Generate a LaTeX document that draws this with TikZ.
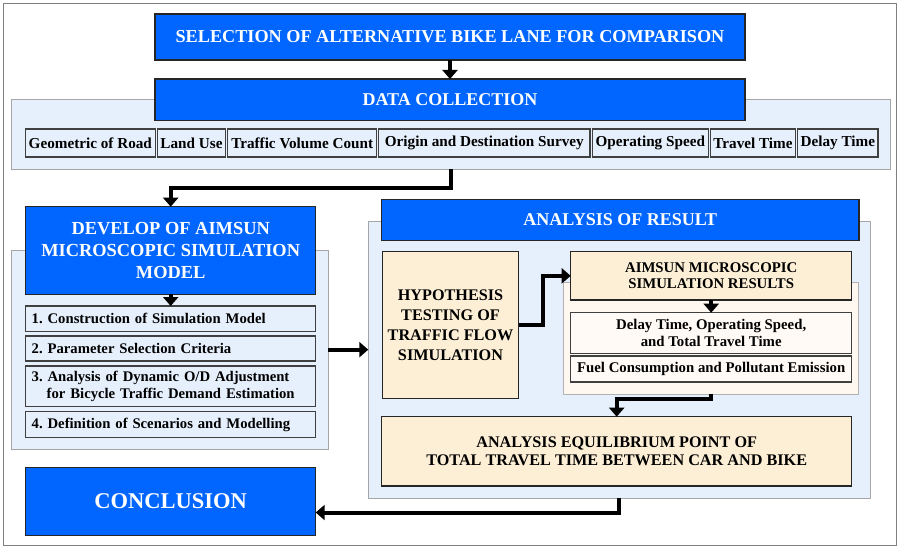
\documentclass[tikz,border=0pt]{standalone}
\usepackage{fontspec}
\setmainfont{Liberation Serif}
\usetikzlibrary{arrows.meta}
\frenchspacing
\definecolor{bblue}{HTML}{0066FF}
\definecolor{lpanel}{HTML}{E6EFFC}
\definecolor{beige}{HTML}{FDEFD6}
\definecolor{cream}{HTML}{FFF8F0}
\definecolor{creambox}{HTML}{FFFAF5}
\newcommand\mkbox[6]{\node[#1,minimum width={(#4-#2)*1pt},minimum height={(#5-#3)*1pt}] (#6) at ({(#2+#4)/2},{(#3+#5)/2})}
\tikzset{
  every node/.style={inner sep=0pt,outer sep=0pt,font=\bfseries},
  bluebox/.style={fill=bblue,draw=black!85,line width=1.3pt,text=white,align=center},
  panel/.style={fill=lpanel,draw=black!35,line width=0.9pt},
  cpanel/.style={fill=cream,draw=black!30,line width=0.9pt},
  smallbox/.style={fill=lpanel,draw=black!75,line width=1.2pt,font=\bfseries\fontsize{15.2}{17}\selectfont},
  itembox/.style={fill=lpanel,draw=black!75,line width=1.2pt,align=left,font=\bfseries\fontsize{14.7}{16.5}\selectfont},
  beigebox/.style={fill=beige,draw=black!85,line width=1.2pt,align=center},
  whitebox/.style={fill=creambox,draw=black!75,line width=1.2pt,align=center,font=\bfseries\fontsize{14.8}{16.5}\selectfont},
  frame/.style={draw=black!50,line width=1pt,fill=white},
  arr/.style={line width=4pt,-{Triangle[width=15pt,length=9pt]}},
}
\begin{document}
\begin{tikzpicture}[x=1pt,y=-1pt]
\useasboundingbox (0,0) rectangle (900,551);
\mkbox{frame}{3.5}{4}{896.5}{545.5}{outer} {};
% top
\mkbox{bluebox,font=\bfseries\fontsize{18.2}{20}\selectfont}{155}{14}{745}{60}{sel} {SELECTION OF ALTERNATIVE BIKE LANE FOR COMPARISON};
\mkbox{panel}{11}{99}{890}{169}{dpanel} {};
\mkbox{bluebox,font=\bfseries\fontsize{18}{20}\selectfont}{155}{79}{745}{120.7}{data} {DATA COLLECTION};
\mkbox{smallbox}{25.3}{129}{155.3}{157}{s1} {Geometric of Road};
\mkbox{smallbox}{157.3}{129}{225.7}{157}{s2} {Land Use};
\mkbox{smallbox}{227.7}{129}{376.7}{157}{s3} {Traffic Volume Count};
\mkbox{smallbox}{378.7}{129}{590}{157}{s4} {Origin and Destination Survey};
\mkbox{smallbox}{592.3}{129}{708.3}{157}{s5} {Operating Speed};
\mkbox{smallbox}{710.3}{129}{795.7}{157}{s6} {Travel Time};
\mkbox{smallbox}{797.7}{129}{878}{157}{s7} {Delay Time};
\draw[arr] (sel.south) -- (data.north);
% develop
\mkbox{panel}{11.7}{250}{328.3}{449.3}{devpanel} {};
\mkbox{bluebox,font=\bfseries\fontsize{18.4}{22}\selectfont}{25.7}{206.7}{315.7}{294.3}{dev} {DEVELOP OF AIMSUN\\MICROSCOPIC SIMULATION\\MODEL};
\mkbox{itembox,text width=278pt}{25.7}{306}{315.7}{331.7}{it1} {1. Construction of Simulation Model};
\mkbox{itembox,text width=278pt}{25.7}{336}{315.7}{361}{it2} {2. Parameter Selection Criteria};
\mkbox{itembox,text width=278pt}{25.7}{366}{315.7}{406.7}{it3} {3. Analysis of Dynamic O/D Adjustment\\\hspace*{15pt}for Bicycle Traffic Demand Estimation};
\mkbox{itembox,text width=278pt}{25.7}{411.7}{315.7}{437.3}{it4} {4. Definition of Scenarios and Modelling};
\draw[arr] (dpanel.south) -- ++(0,19) -| (dev.north);
\draw[arr] (dev.south) -- (it1.north);
% conclusion
\mkbox{bluebox,font=\bfseries\fontsize{22.5}{26}\selectfont}{25.7}{467.3}{315.7}{535.7}{conc} {CONCLUSION};
% analysis
\mkbox{panel}{368.3}{221.7}{870}{498.3}{apanel} {};
\mkbox{bluebox,font=\bfseries\fontsize{18}{20}\selectfont}{381.7}{199.3}{859}{240.7}{ana} {ANALYSIS OF RESULT};
\mkbox{beigebox,font=\bfseries\fontsize{16.2}{20}\selectfont}{382.3}{251.7}{518.7}{398.3}{hyp} {HYPOTHESIS\\TESTING OF\\TRAFFIC FLOW\\SIMULATION};
\mkbox{cpanel}{563.7}{282.7}{858}{394.3}{cpan} {};
\mkbox{beigebox,font=\bfseries\fontsize{14.8}{16.5}\selectfont}{570.7}{251.7}{851.7}{300}{aim} {AIMSUN MICROSCOPIC\\SIMULATION RESULTS};
\mkbox{whitebox}{570.7}{312.7}{851.7}{353.3}{delay} {Delay Time, Operating Speed,\\and Total Travel Time};
\mkbox{whitebox}{570.7}{356}{851.7}{382}{fuel} {Fuel Consumption and Pollutant Emission};
\mkbox{beigebox,font=\bfseries\fontsize{16.2}{18}\selectfont}{381.7}{416.7}{851.7}{486}{eq} {ANALYSIS EQUILIBRIUM POINT OF\\TOTAL TRAVEL TIME BETWEEN CAR AND BIKE};
% connectors
\draw[arr] (devpanel.east) -- (devpanel.east -| apanel.west);
\draw[arr] (hyp.east) -- ++(24,0) |- (aim.west);
\draw[arr] (aim.south) -- (delay.north);
\draw[arr] (cpan.south) -- ++(0,5) -| (eq.north);
\draw[arr] (apanel.south) |- ([yshift=-11pt]conc.east);
\end{tikzpicture}
\end{document}
